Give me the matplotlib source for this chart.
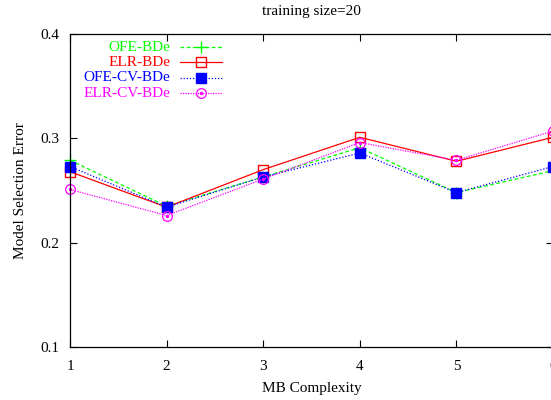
import matplotlib
matplotlib.use("Agg")
import matplotlib.pyplot as plt
from matplotlib.lines import Line2D

plt.rcParams['font.family'] = ['Liberation Serif', 'DejaVu Serif']

complexity = [1, 2, 3, 4, 5, 6]
ofe_bde = [0.279, 0.235, 0.263, 0.291, 0.248, 0.269]
elr_bde = [0.268, 0.234, 0.270, 0.301, 0.278, 0.301]
ofe_cv_bde = [0.273, 0.234, 0.263, 0.286, 0.248, 0.273]
elr_cv_bde = [0.251, 0.226, 0.261, 0.296, 0.279, 0.307]
labels = ["OFE-BDe", "ELR-BDe", "OFE-CV-BDe", "ELR-CV-BDe"]
yticks = [0.1, 0.2, 0.3, 0.4]
xticks = [1, 2, 3, 4, 5, 6]

fig = plt.figure(figsize=(5.51, 4.0), dpi=100)
ax = fig.add_axes([70/551, 53/400, 483/551, 313/400])

styles = [
    dict(color='#00ff00', ls=(0, (3, 2)), marker='+', ms=8, mew=1.0, mfc='none'),
    dict(color='#ff0000', ls='-', marker='s', ms=7, mew=1.0, mfc='none'),
    dict(color='#0000ff', ls=(0, (1, 1.5)), marker='s', ms=7, mew=1.0, mfc='#0000ff'),
    dict(color='#ff00ff', ls=(0, (1, 1)), marker='o', ms=7, mew=0.9, mfc='none'),
]
series = [ofe_bde, elr_bde, ofe_cv_bde, elr_cv_bde]
for vals, st in zip(series, styles):
    ax.plot(complexity, vals, lw=0.9, clip_on=False, **st)
ax.plot(complexity, elr_cv_bde, ls='none', marker='o', ms=1.5, color='#ff00ff', clip_on=False)

ax.set_xlim(1, 6)
ax.set_ylim(0.1, 0.4)
ax.set_xticks(xticks)
ax.set_yticks(yticks)
ax.set_yticklabels([f"{v:.1f}" for v in yticks])
ax.tick_params(direction='in', length=5, width=0.8, top=True, right=True,
               labelsize=11, pad=8)
ax.tick_params(axis='x', pad=9)
for sp in ax.spines.values():
    sp.set_linewidth(0.9)

ax.set_xlabel("MB Complexity", fontsize=11, labelpad=7)
ax.set_ylabel("Model Selection Error", fontsize=11, labelpad=9)
ax.set_title("training size=20", fontsize=11, pad=14)

# manual legend (gnuplot style: right-aligned text, sample to the right)
y0 = 0.958
dy = 0.049
for i, (lab, st) in enumerate(zip(labels, styles)):
    y = y0 - i * dy
    ax.text(0.208, y, lab, transform=ax.transAxes, ha='right', va='center',
            fontsize=11, color=st['color'])
    ax.add_line(Line2D([0.228, 0.315], [y, y], transform=ax.transAxes, lw=0.9,
                       color=st['color'], ls=st['ls']))
    ax.add_line(Line2D([0.2715], [y], transform=ax.transAxes, ls='none',
                       marker=st['marker'], ms=st['ms'], mew=st['mew'],
                       mfc=st['mfc'], color=st['color']))
    if i == 3:
        ax.add_line(Line2D([0.2715], [y], transform=ax.transAxes, ls='none',
                           marker='o', ms=1.5, color=st['color']))

fig.savefig("out.png", dpi=100)
